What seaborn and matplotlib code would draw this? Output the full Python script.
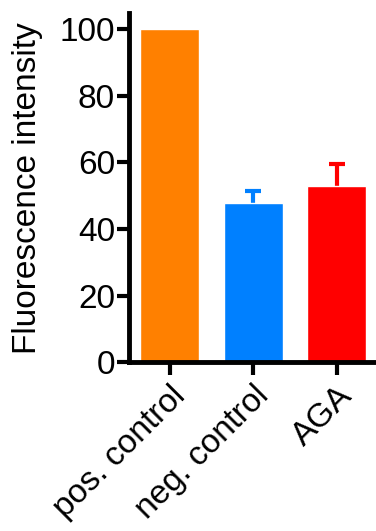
import matplotlib
matplotlib.use("Agg")
import matplotlib.pyplot as plt
import seaborn as sns
import pandas as pd

categories = ["pos. control", "neg. control", "AGA"]
values = [100.0, 47.7, 52.9]
errors = [0.0, 3.6, 6.6]
colors = ["#FF8000", "#0080FF", "#FF0000"]
yticks = [0, 20, 40, 60, 80, 100]
ylabel = "Fluorescence intensity"

sns.set_style("ticks")
plt.rcParams['font.family'] = ['Liberation Sans', 'DejaVu Sans']
plt.rcParams['text.color'] = 'black'
plt.rcParams['axes.labelcolor'] = 'black'
plt.rcParams['xtick.color'] = 'black'
plt.rcParams['ytick.color'] = 'black'

df = pd.DataFrame({"cat": categories, "val": values})

fig = plt.figure(figsize=(3.76, 5.31), dpi=100)
ax = fig.add_axes([0.343, 0.318, 0.657, 0.657])
sns.barplot(data=df, x="cat", y="val", hue="cat", palette=colors, legend=False,
            width=0.71, ax=ax, errorbar=None, saturation=1, zorder=2)

for i, (v, e, c) in enumerate(zip(values, errors, colors)):
    if e > 0:
        _, caps, _ = ax.errorbar(i, v, yerr=[[0], [e]], fmt="none", ecolor=c, elinewidth=3,
                                 capsize=6, capthick=3, zorder=1)
        caps[0].set_visible(False)

ax.set_ylim(0, 104.8)
ax.set_xlim(-0.49, 2.47)
ax.set_yticks(yticks)
ax.set_xlabel("")
ax.set_ylabel(ylabel, fontsize=24, labelpad=12)
for s in ["top", "right"]:
    ax.spines[s].set_visible(False)
for s in ["left", "bottom"]:
    ax.spines[s].set_linewidth(3.5)
    ax.spines[s].set_color("black")
ax.tick_params(axis="both", width=3, length=9, color="black", direction="out")
ax.tick_params(axis="y", labelsize=24, pad=1)
ax.tick_params(axis="x", labelsize=24, pad=4)
plt.setp(ax.get_xticklabels(), rotation=45, ha="right", rotation_mode="anchor")

fig.savefig("out.png", dpi=100)
